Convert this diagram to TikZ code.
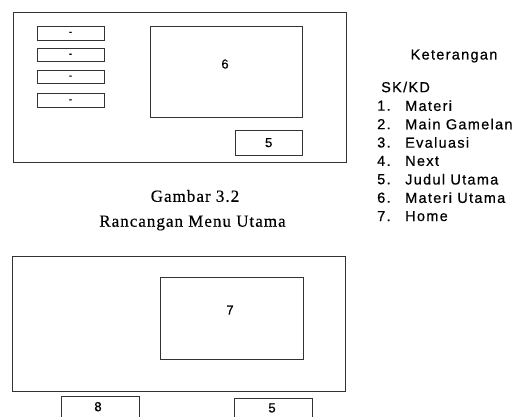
\documentclass[tikz,border=0pt]{standalone}
\usepackage{fontspec}
\setmainfont{Liberation Serif}
\newfontfamily\legendfont{Liberation Sans}[LetterSpace=9, FakeBold=0.6]
\newfontfamily\numfont{Liberation Sans}[FakeBold=0.6]
\newfontfamily\capfont{Liberation Serif}[LetterSpace=6, FakeBold=0.4]
\usetikzlibrary{positioning}

\tikzset{
  frame/.style={draw=black!80, line width=0.9pt, inner sep=0pt},
  btnbox/.style={frame, minimum width=67pt, minimum height=13.5pt, font=\numfont\fontsize{9}{10}\selectfont\bfseries},
  legtext/.style={anchor=west, inner sep=0pt, font=\legendfont\fontsize{14.5}{16}\selectfont},
  numtext/.style={inner sep=0pt, font=\numfont\fontsize{13}{15}\selectfont},
  captext/.style={inner sep=0pt, font=\capfont\fontsize{17}{20}\selectfont}
}

\begin{document}
\begin{tikzpicture}[x=1pt, y=-1pt]
\useasboundingbox (0,0) rectangle (520,417);
\clip (0,0) rectangle (520,417);

% Menu utama (top screen)
\node[frame, minimum width=333pt, minimum height=150pt] (menu) at (179.5,87) {};
\foreach \y [count=\i] in {33.3, 55.2, 77, 100.7} {
  \node[btnbox] (btn\i) at (70.5,\y) {-};
}
\node[frame, minimum width=152.3pt, minimum height=91.4pt] (isi6) at (226.2,72) {};
\node[numtext] (lbl6) at (225,64) {6};
\node[frame, numtext, minimum width=67.3pt, minimum height=24.7pt] (judul5) at (268.7,142.7) {5};

% Caption
\node[captext] (gambar) at (195,196) {Gambar 3.2};
\node[captext] (rancangan) at (192.5,223) {Rancangan Menu Utama};

% Keterangan
\node[legtext, anchor=center] (ket) at (454,56) {Keterangan};
\node[legtext] (skkd) at (381,87) {SK/KD};
\foreach \i/\txt in {1/Materi, 2/Main Gamelan, 3/Evaluasi, 4/Next, 5/Judul Utama, 6/Materi Utama, 7/Home} {
  \node[legtext] (no\i) at (377,{105.7+(\i-1)*18.4}) {\i.};
  \node[legtext] (item\i) at (405,{105.7+(\i-1)*18.4}) {\txt};
}

% Halaman materi (bottom screen)
\node[frame, minimum width=333pt, minimum height=134.3pt] (materi) at (179.2,323.8) {};
\node[frame, minimum width=143.3pt, minimum height=82pt] (home7) at (231.7,318) {};
\node[numtext] (lbl7) at (230,310) {7};
\node[frame, minimum width=78.3pt, minimum height=34pt] (btn8) at (100.2,413) {};
\node[numtext] (lbl8) at (98,406.7) {8};
\node[frame, minimum width=78.3pt, minimum height=31.7pt] (judul5b) at (273.2,414.2) {};
\node[numtext] (lbl5b) at (272,408) {5};

\end{tikzpicture}
\end{document}
